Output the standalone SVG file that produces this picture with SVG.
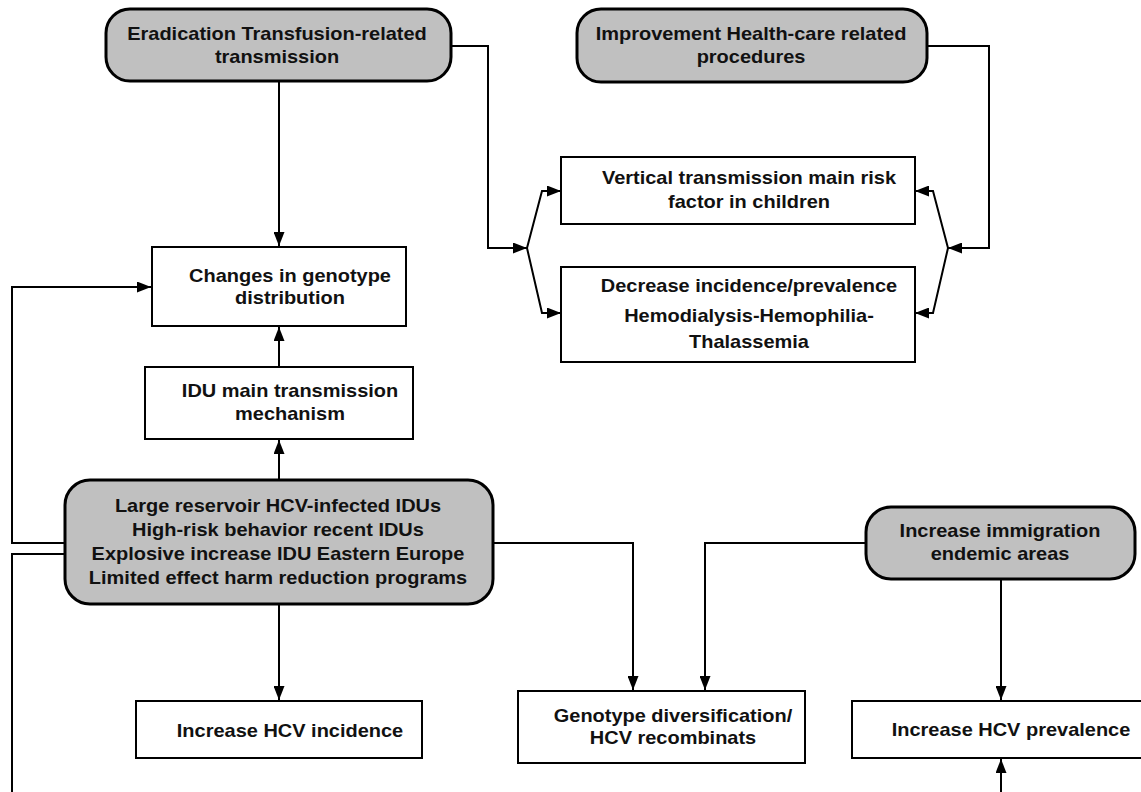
<svg xmlns="http://www.w3.org/2000/svg" width="1141" height="792" viewBox="0 0 1141 792">
<defs>
<marker id="ah" markerUnits="userSpaceOnUse" markerWidth="15" markerHeight="11" refX="14" refY="5.5" orient="auto">
<path d="M0,0 L14,5.5 L0,11 z" fill="#000"/>
</marker>
<style>
.grey{fill:#c0c0c0;stroke:#000;stroke-width:3}
.box{fill:#fff;stroke:#000;stroke-width:2}
.t{font-family:"Liberation Sans",Arial,sans-serif;font-weight:bold;font-size:18px;fill:#111;text-anchor:middle}
.c{fill:none;stroke:#000;stroke-width:2}
.a{marker-end:url(#ah)}
</style>
</defs>
<rect width="1141" height="792" fill="#fff"/>
<g id="connectors">
<path class="c a" d="M279,82 V246"/>
<path class="c a" d="M451,46 H488 V248 H527"/>
<path class="c a" d="M527,248 L542,191 H561"/>
<path class="c a" d="M527,248 L542,313 H561"/>
<path class="c a" d="M927,46 H989 V248 H948"/>
<path class="c a" d="M948,248 L933,191 H915"/>
<path class="c a" d="M948,248 L933,313 H915"/>
<path class="c a" d="M279,367 V327"/>
<path class="c a" d="M279,480 V440"/>
<path class="c a" d="M65,543 H12 V287 H151"/>
<path class="c" d="M65,554 H12 V792"/>
<path class="c a" d="M493,543 H633 V690"/>
<path class="c a" d="M866,543 H705 V690"/>
<path class="c a" d="M1001,579 V700"/>
<path class="c a" d="M279,605 V700"/>
<path class="c a" d="M1001,792 V759"/>
</g>
<g id="eradication">
<rect class="grey" x="106" y="9" width="345" height="72" rx="24"/>
<text class="t" transform="translate(277,40) scale(1.11,1)">Eradication Transfusion-related</text>
<text class="t" transform="translate(277,63) scale(1.11,1)">transmission</text>
</g>
<g id="improvement">
<rect class="grey" x="577" y="9" width="350" height="73" rx="24"/>
<text class="t" transform="translate(751,40) scale(1.11,1)">Improvement Health-care related</text>
<text class="t" transform="translate(751,63) scale(1.11,1)">procedures</text>
</g>
<g id="vertical">
<rect class="box" x="561" y="157" width="354" height="67"/>
<text class="t" transform="translate(749,184) scale(1.11,1)">Vertical transmission main risk</text>
<text class="t" transform="translate(749,208) scale(1.11,1)">factor in children</text>
</g>
<g id="decrease">
<rect class="box" x="561" y="267" width="354" height="95"/>
<text class="t" transform="translate(749,292) scale(1.11,1)">Decrease incidence/prevalence</text>
<text class="t" transform="translate(749,322) scale(1.11,1)">Hemodialysis-Hemophilia-</text>
<text class="t" transform="translate(749,348) scale(1.11,1)">Thalassemia</text>
</g>
<g id="changes">
<rect class="box" x="152" y="247" width="254" height="79"/>
<text class="t" transform="translate(290,282) scale(1.11,1)">Changes in genotype</text>
<text class="t" transform="translate(290,304) scale(1.11,1)">distribution</text>
</g>
<g id="idu">
<rect class="box" x="145" y="367" width="268" height="72"/>
<text class="t" transform="translate(290,397) scale(1.11,1)">IDU main transmission</text>
<text class="t" transform="translate(290,420) scale(1.11,1)">mechanism</text>
</g>
<g id="reservoir">
<rect class="grey" x="65" y="480" width="428" height="124" rx="25"/>
<text class="t" transform="translate(278,512) scale(1.11,1)">Large reservoir HCV-infected IDUs</text>
<text class="t" transform="translate(278,536) scale(1.11,1)">High-risk behavior recent IDUs</text>
<text class="t" transform="translate(278,560) scale(1.11,1)">Explosive increase IDU Eastern Europe</text>
<text class="t" transform="translate(278,584) scale(1.11,1)">Limited effect harm reduction programs</text>
</g>
<g id="immigration">
<rect class="grey" x="866" y="507" width="269" height="72" rx="25"/>
<text class="t" transform="translate(1000,537) scale(1.11,1)">Increase immigration</text>
<text class="t" transform="translate(1000,560) scale(1.11,1)">endemic areas</text>
</g>
<g id="incidence">
<rect class="box" x="136" y="701" width="286" height="57"/>
<text class="t" transform="translate(290,737) scale(1.11,1)">Increase HCV incidence</text>
</g>
<g id="genotype">
<rect class="box" x="518" y="691" width="287" height="72"/>
<text class="t" transform="translate(673,722) scale(1.11,1)">Genotype diversification/</text>
<text class="t" transform="translate(673,744) scale(1.11,1)">HCV recombinats</text>
</g>
<g id="prevalence">
<rect class="box" x="852" y="701" width="300" height="57"/>
<text class="t" transform="translate(1011,736) scale(1.11,1)">Increase HCV prevalence</text>
</g>
</svg>
